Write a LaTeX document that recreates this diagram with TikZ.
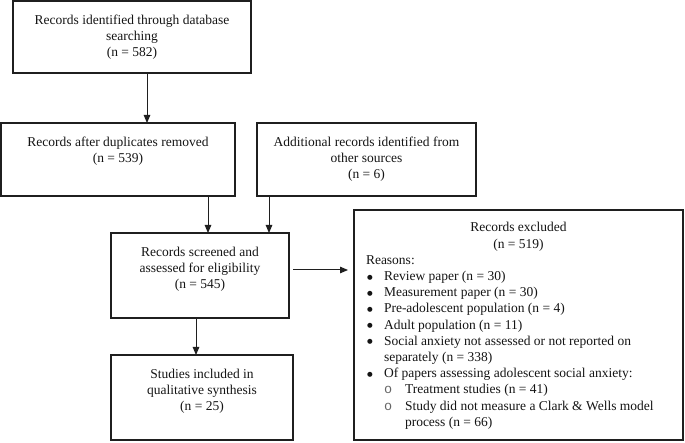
\documentclass[tikz,border=0pt]{standalone}
\usepackage{fontspec}
\setmainfont{Liberation Serif}
\newfontfamily\courfont{Liberation Mono}
\newfontfamily\djvfont{DejaVu Sans}
\usetikzlibrary{arrows.meta}
\newcommand\boxtxt[3]{\parbox[t][#2][t]{#1}{\vspace*{12pt}\centering\strut #3}}
\newcommand\bul{\hspace*{13.2pt}\makebox[16.8pt][l]{\raisebox{1.3pt}{\djvfont\fontsize{6.5}{7}\selectfont ●}}}
\newcommand\hol{\hspace*{30pt}\makebox[21pt][l]{\textcolor{black!60}{\courfont o}}}
\begin{document}
\begin{tikzpicture}[x=1pt,y=-1pt,
  box/.style={draw=black!88, line width=1.1pt, inner sep=0pt, outer sep=0pt,
    anchor=north west, font=\fontsize{13.5}{16}\selectfont, text=black!92},
  arr/.style={draw=black!88, line width=1pt, -{Triangle[length=8pt,width=6.5pt]}}]
\useasboundingbox (0,0) rectangle (685,443);
\node[box] (b1) at (13,1) {\boxtxt{238pt}{72pt}{Records identified through database\\searching\\(n = 582)}};
\node[box] (b2) at (1,123) {\boxtxt{234pt}{73pt}{Records after duplicates removed\\(n = 539)}};
\node[box] (b3) at (257,123) {\boxtxt{219pt}{73pt}{Additional records identified from\\other sources\\(n = 6)}};
\node[box] (b4) at (111,233) {\boxtxt{178pt}{85pt}{Records screened and\\assessed for eligibility\\(n = 545)}};
\node[box] (b5) at (111,355) {\boxtxt{182pt}{85pt}{Studies included in\\qualitative synthesis\\(n = 25)}};
\node[box] (b6) at (354,210) {\parbox[t][230pt][t]{329pt}{\fontsize{13.5}{16.2}\selectfont
  \vspace*{10.5pt}{\centering\strut Records excluded\\(n = 519)\par}\raggedright
  \hspace*{12pt}Reasons:\\
  \bul Review paper (n = 30)\\
  \bul Measurement paper (n = 30)\\
  \bul Pre-adolescent population (n = 4)\\
  \bul Adult population (n = 11)\\
  \bul Social anxiety not assessed or not reported on\\
  \hspace*{30pt}separately (n = 338)\\
  \bul Of papers assessing adolescent social anxiety:\\
  \hol Treatment studies (n = 41)\\
  \hol Study did not measure a Clark \& Wells model\\
  \hspace*{51pt}process (n = 66)}};
\draw[arr] ([xshift=15pt]b1.south) -- ([xshift=15pt]b1.south |- b2.north);
\draw[arr] ([xshift=90pt]b2.south) -- ([xshift=90pt]b2.south |- b4.north);
\draw[arr] ([xshift=-97.5pt]b3.south) -- ([xshift=-97.5pt]b3.south |- b4.north);
\draw[arr] ([xshift=-4pt]b4.south) -- ([xshift=-4pt]b4.south |- b5.north);
\draw[arr, shorten <=4pt, shorten >=6pt] ([yshift=5.5pt]b4.east) -- ([yshift=5.5pt]b4.east -| b6.west);
\end{tikzpicture}
\end{document}
